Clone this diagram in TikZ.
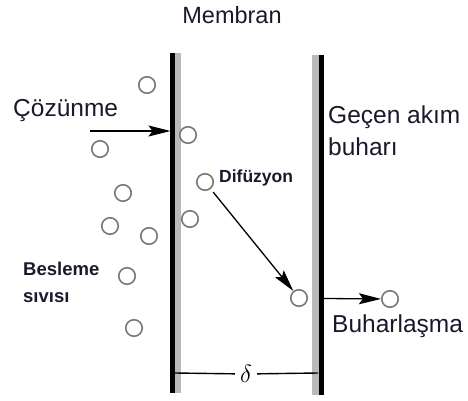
\documentclass[tikz,border=0pt]{standalone}
\usepackage{fontspec}
\setmainfont{Liberation Sans}
\usetikzlibrary{arrows.meta}
\definecolor{txt}{RGB}{25,25,45}
\definecolor{molc}{RGB}{120,120,120}
\begin{document}
\begin{tikzpicture}[x=1pt,y=-1pt,
  mol/.style={circle,draw=molc,line width=1.6pt,minimum size=16.5pt,inner sep=0pt,fill=white},
  lbl/.style={anchor=base west,inner sep=0pt,text=txt,font=\fontsize{24.5}{28}\selectfont},
  smalllbl/.style={anchor=base west,inner sep=0pt,text=txt,font=\fontsize{18.5}{22}\selectfont\bfseries},
  arr/.style={line width=1.3pt,-{Stealth[length=22pt,width=11pt,inset=4pt]}},
  wall/.style={line width=5pt,black},
  band/.style={fill=gray!55,draw=none},
  dim/.style={line width=1.4pt}]
\useasboundingbox (0,0) rectangle (468,401);
% membranes
\fill[band] (175,53) rectangle (181,393);
\draw[wall] (172.5,53) -- (172.5,393);
\fill[band] (312,55) rectangle (318.5,395);
\draw[wall] (321,55) -- (321,395);
% title
\node[inner sep=0pt,text=txt,font=\fontsize{23.5}{27}\selectfont] (title) at (232,15.5) {Membran};
% molecules
\node[mol] (m1) at (147,85) {};
\node[mol] (m2) at (188,135) {};
\node[mol] (m3) at (100,149) {};
\node[mol] (m4) at (205,182) {};
\node[mol] (m5) at (123,193) {};
\node[mol] (m6) at (190,219) {};
\node[mol] (m7) at (110,226) {};
\node[mol] (m8) at (149,236) {};
\node[mol] (m9) at (127,276) {};
\node[mol] (m10) at (299,298) {};
\node[mol] (m11) at (390,299) {};
\node[mol] (m12) at (134,328) {};
% labels
\node[lbl] (coz) at (13,117) {Çözünme};
\node[lbl] (gec1) at (328,124) {Geçen akım};
\node[lbl] (gec2) at (328,155) {buharı};
\node[smalllbl,font=\fontsize{17.5}{20}\selectfont\bfseries] (dif) at (219,182) {Difüzyon};
\node[smalllbl] (bes1) at (23,275) {Besleme};
\node[smalllbl] (bes2) at (23,302) {sıvısı};
\node[lbl] (buh) at (332,332) {Buharlaşma};
% arrows
\coordinate (cs) at (90,131);
\coordinate (ce) at (170.5,131);
\draw[arr] (cs) -- (ce);
\draw[arr,shorten <=4pt] (m4) -- (m10);
\coordinate (es) at (323.5,298.5);
\draw[arr] (es) -- (m11);
% thickness delta
\coordinate (dl) at (175,373);
\coordinate (dr) at (318,373);
\node[inner ysep=1pt,inner xsep=5pt,font=\fontsize{23}{25}\selectfont] (delta) at (246,374) {$\delta$};
\draw[dim] (dl) -- (delta);
\draw[dim] (delta) -- (dr);
\end{tikzpicture}
\end{document}
